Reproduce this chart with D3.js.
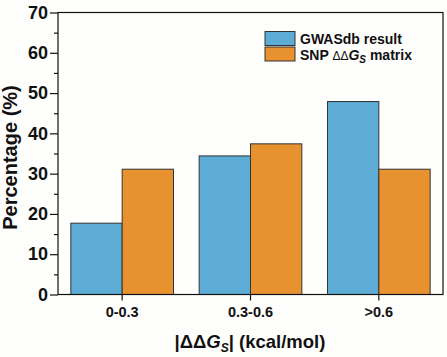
<!DOCTYPE html>
<html><head><meta charset="utf-8">
<script src="https://cdn.jsdelivr.net/npm/d3@7"></script>
<style>body{margin:0;background:#fefefd;}svg{display:block;font-family:Arial,"Liberation Sans",sans-serif;}</style>
</head><body>
<script>
const categories = ["0-0.3", "0.3-0.6", ">0.6"];
const seriesNames = ["GWASdb result", "SNP matrix"];
const gwasValues = [17.7, 34.4, 47.9];
const snpValues = [31.1, 37.4, 31.1];
const yTicks = [0, 10, 20, 30, 40, 50, 60, 70];
const colors = ["#5cacd6", "#e8922f"];

const W = 447, H = 357;
const m = {left: 58, right: 4, top: 12.5, bottom: 62.5};
const svg = d3.select("body").append("svg").attr("width", W).attr("height", H);
const x = d3.scaleBand().domain(categories).range([m.left, W - m.right]).paddingInner(0.2).paddingOuter(0.1);
const x1 = d3.scaleBand().domain([0, 1]).range([0, x.bandwidth()]);
const y = d3.scaleLinear().domain([0, 70]).range([H - m.bottom, m.top]);

const data = categories.map((c, i) => ({c, v: [gwasValues[i], snpValues[i]]}));
const g = svg.append("g");
data.forEach(d => {
  d.v.forEach((v, j) => {
    g.append("rect")
      .attr("x", x(d.c) + x1(j)).attr("width", x1.bandwidth())
      .attr("y", y(v)).attr("height", y(0) - y(v))
      .attr("fill", colors[j]).attr("stroke", "#333").attr("stroke-width", 1);
  });
});

// frame
svg.append("rect").attr("x", m.left).attr("y", m.top).attr("width", W - m.right - m.left)
  .attr("height", y(0) - m.top).attr("fill", "none").attr("stroke", "#111").attr("stroke-width", 1.2);

// y axis
const ya = svg.append("g").attr("transform", `translate(${m.left},0)`)
  .call(d3.axisLeft(y).tickValues(yTicks).tickSize(8).tickPadding(2));
ya.select(".domain").remove();
ya.selectAll("text").attr("font-size", 18).attr("font-weight", "bold").attr("fill", "#111").attr("font-family", "Arial, Liberation Sans, sans-serif");
ya.selectAll("line").attr("stroke", "#111").attr("stroke-width", 1.2);
const ym = svg.append("g").attr("transform", `translate(${m.left},0)`)
  .call(d3.axisLeft(y).tickValues(d3.range(5, 70, 10)).tickSize(4).tickFormat(""));
ym.select(".domain").remove();
ym.selectAll("line").attr("stroke", "#111").attr("stroke-width", 1.2);

// x axis
const xa = svg.append("g").attr("transform", `translate(0,${y(0)})`)
  .call(d3.axisBottom(x).tickSize(6).tickPadding(6));
xa.select(".domain").remove();
xa.selectAll("text").attr("font-size", 14.5).attr("font-weight", "bold").attr("fill", "#111").attr("font-family", "Arial, Liberation Sans, sans-serif");
xa.selectAll("line").attr("stroke", "#111").attr("stroke-width", 1.2);

// axis titles
svg.append("text").attr("transform", `translate(17,${(m.top + y(0)) / 2 + 4}) rotate(-90)`)
  .attr("text-anchor", "middle").attr("font-size", 20).attr("font-weight", "bold").attr("fill", "#111")
  .text("Percentage (%)");
const xt = svg.append("text").attr("x", 250).attr("y", 348).attr("text-anchor", "middle")
  .attr("font-size", 18.5).attr("font-weight", "bold").attr("fill", "#111");
xt.append("tspan").text("|ΔΔ");
xt.append("tspan").attr("font-style", "italic").text("G");
xt.append("tspan").attr("font-style", "italic").attr("font-size", 12).attr("dy", 4).text("S");
xt.append("tspan").attr("dy", -4).text("| (kcal/mol)");

// legend
const lg = svg.append("g").attr("transform", "translate(265,31.5)");
seriesNames.forEach((s, i) => {
  lg.append("rect").attr("x", 0).attr("y", i * 15.5).attr("width", 30).attr("height", 14)
    .attr("fill", colors[i]).attr("stroke", "#333").attr("stroke-width", 1);
});
lg.append("text").attr("x", 35).attr("y", 12).attr("font-size", 14).attr("font-weight", "bold").attr("fill", "#111").text(seriesNames[0]);
const l2 = lg.append("text").attr("x", 35).attr("y", 28).attr("font-size", 14).attr("font-weight", "bold").attr("fill", "#111");
l2.append("tspan").text("SNP ");
l2.append("tspan").attr("font-weight", "normal").attr("font-size", 12).text("ΔΔ");
l2.append("tspan").attr("font-style", "italic").text("G");
l2.append("tspan").attr("font-style", "italic").attr("font-size", 10).attr("dy", 3).text("S");
l2.append("tspan").attr("dy", -3).text(" matrix");
</script>
</body></html>
